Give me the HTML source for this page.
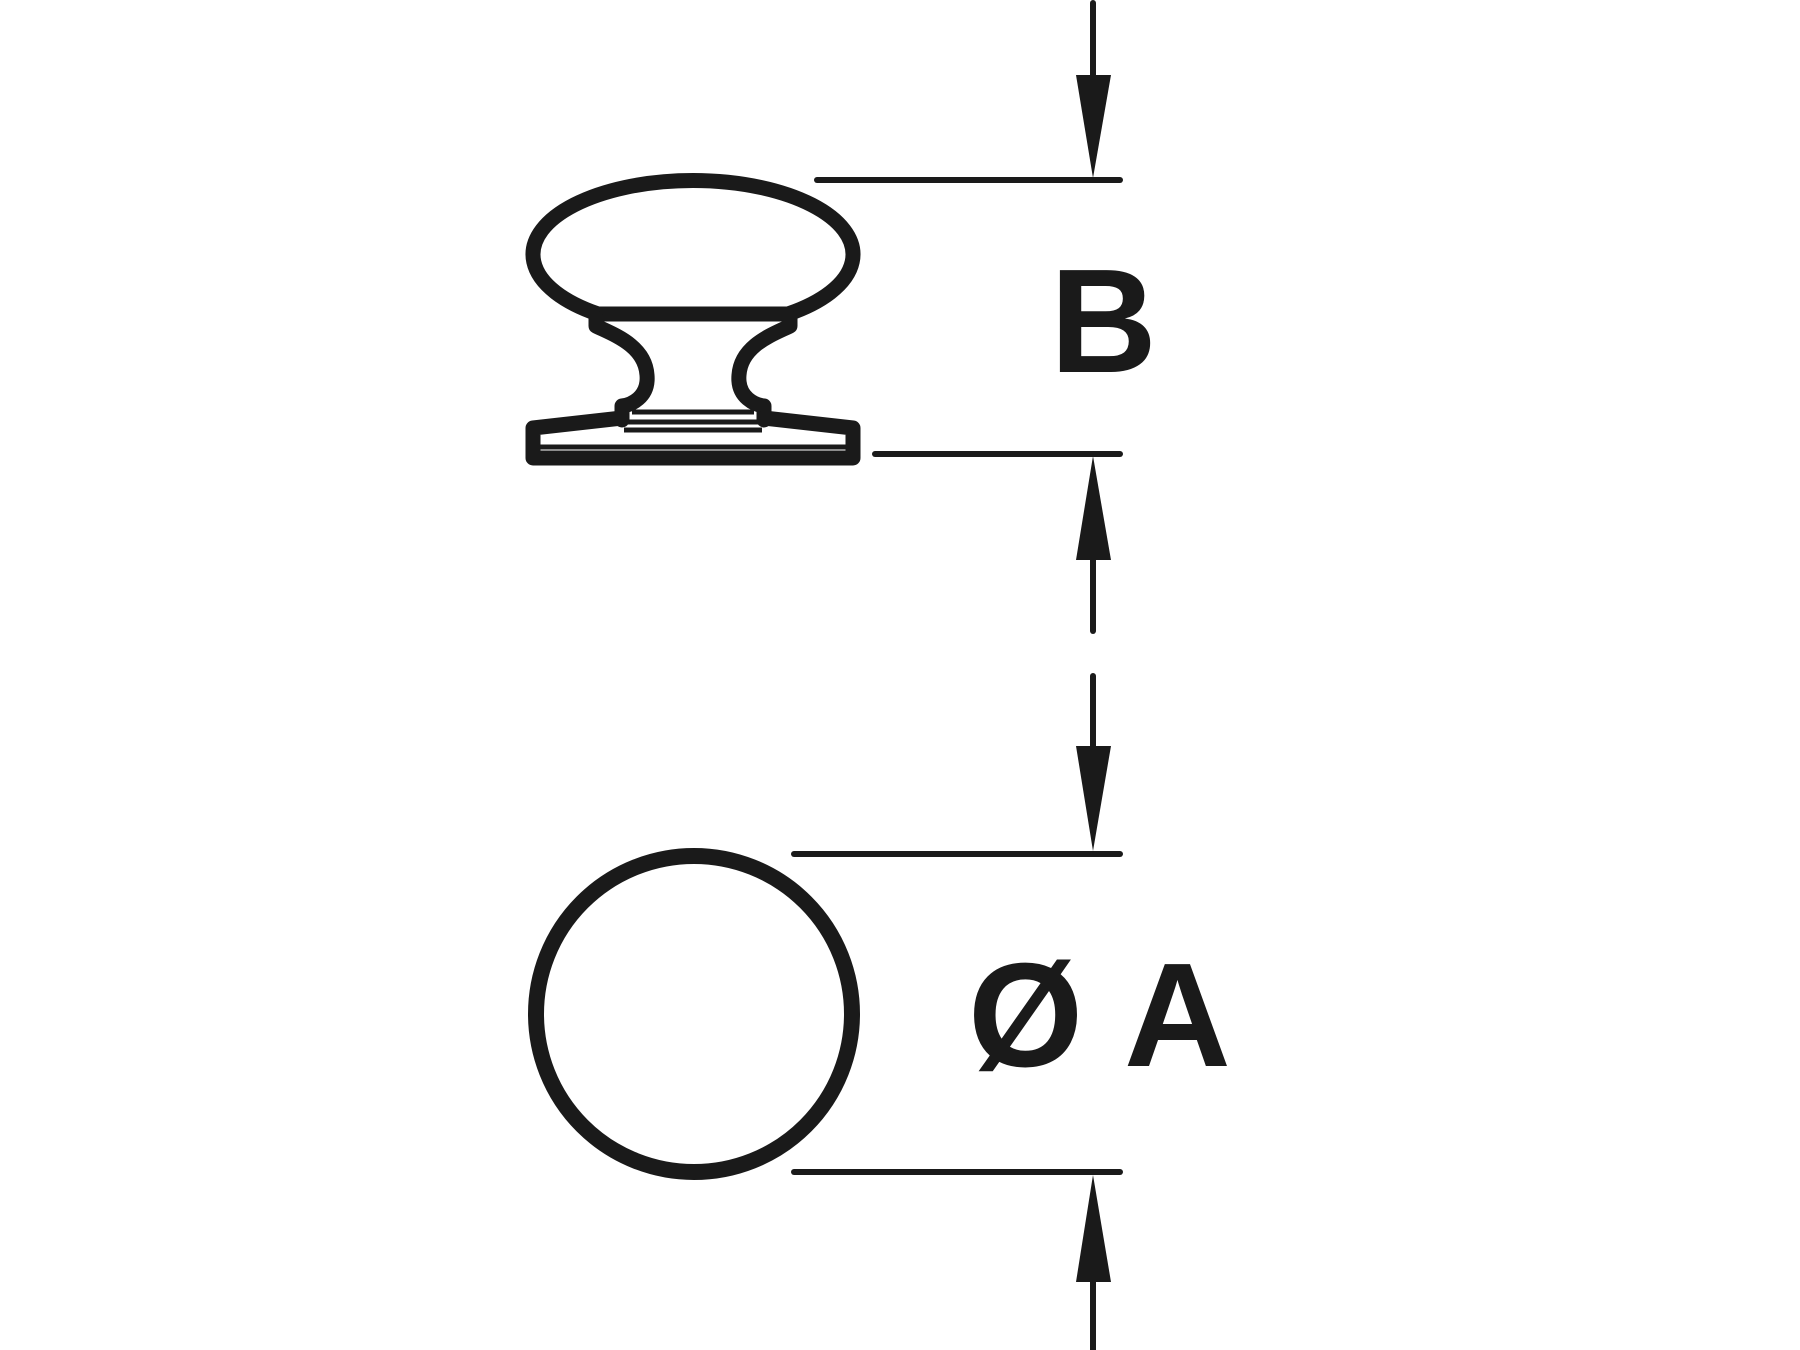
<!DOCTYPE html>
<html><head><style>
html,body{margin:0;padding:0;background:#fff;}
svg{display:block;}
text{font-family:"Liberation Sans",Arial,sans-serif;font-weight:bold;fill:#1a1a1a;}
</style></head><body>
<svg width="1800" height="1350" viewBox="0 0 1800 1350" xmlns="http://www.w3.org/2000/svg">
<g fill="none" stroke="#1a1a1a" stroke-width="15" stroke-linejoin="round" stroke-linecap="round">
  <!-- knob head -->
  <path d="M598,314 A160 74 0 1 1 788,314 Z"/>
  <!-- neck -->
  <path d="M596,318 L596,326 C612,334 645,345 647,375 C649,398 630,405 622,406 L622,420"/>
  <path d="M790,318 L790,326 C774,334 741,345 739,375 C737,398 756,405 764,406 L764,420"/>
  <!-- base -->
  <path d="M622,418 L533,428 L533,458 L853,458 L853,428 L764,418"/>
</g>
<g stroke="#1a1a1a" stroke-width="5" fill="none">
  <line x1="632" y1="412" x2="754" y2="412"/>
  <line x1="628" y1="422" x2="758" y2="422"/>
  <line x1="624" y1="430" x2="762" y2="430"/>
  <line x1="540" y1="447" x2="846" y2="447"/>
</g>
<circle cx="694" cy="1014" r="158" fill="none" stroke="#1a1a1a" stroke-width="16"/>
<!-- dimension lines -->
<g stroke="#1a1a1a" stroke-width="6" stroke-linecap="round">
  <line x1="817" y1="180" x2="1120" y2="180"/>
  <line x1="875" y1="454" x2="1120" y2="454"/>
  <line x1="794" y1="854" x2="1120" y2="854"/>
  <line x1="794" y1="1172" x2="1120" y2="1172"/>
  <line x1="1093" y1="3" x2="1093" y2="90"/>
  <line x1="1093" y1="540" x2="1093" y2="631"/>
  <line x1="1093" y1="676" x2="1093" y2="760"/>
  <line x1="1093" y1="1260" x2="1093" y2="1350"/>
</g>
<g fill="#1a1a1a">
  <polygon points="1076,75 1111,75 1093,178"/>
  <polygon points="1076,560 1111,560 1093,456"/>
  <polygon points="1076,746 1111,746 1093,851"/>
  <polygon points="1076,1282 1111,1282 1093,1175"/>
</g>
<text x="1050" y="372" font-size="148">B</text>
<text x="968" y="1066" font-size="148">Ø</text>
<text x="1124" y="1066" font-size="148">A</text>
</svg>
</body></html>
